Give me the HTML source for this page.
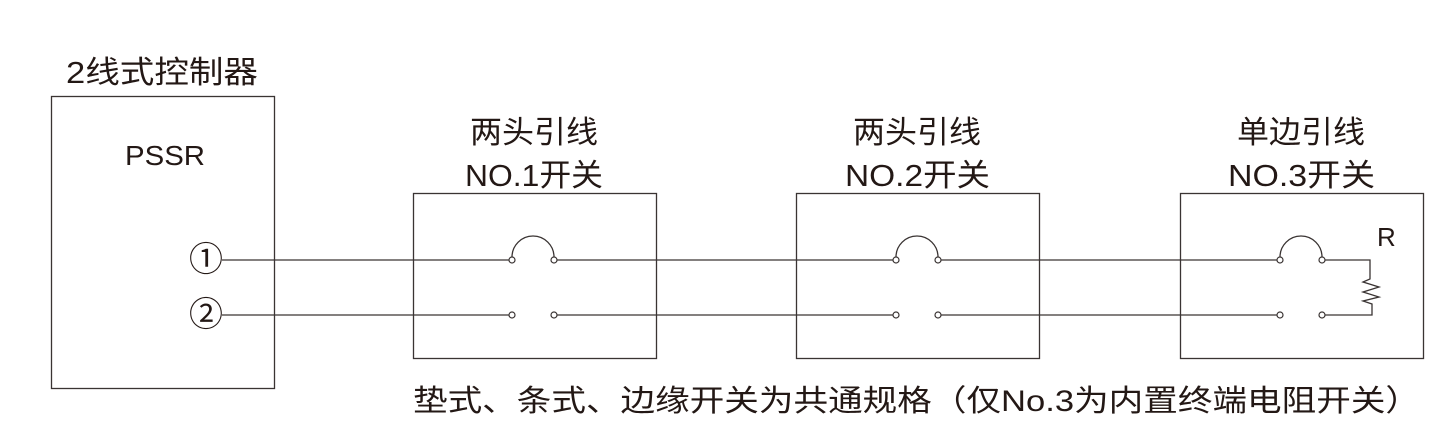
<!DOCTYPE html>
<html><head><meta charset="utf-8"><style>
html,body{margin:0;padding:0;background:#fff;}
svg{display:block;}
text{font-family:"Liberation Sans","Noto Sans CJK SC",sans-serif;fill:#231815;}
</style></head><body>
<svg width="1453" height="437" viewBox="0 0 1453 437" xmlns="http://www.w3.org/2000/svg">
<g fill="none" stroke="#3a3433" stroke-width="1.3">
<rect x="51.5" y="96.5" width="223" height="292"/>
<rect x="413.5" y="193.5" width="243" height="165"/>
<rect x="796.5" y="193.5" width="243" height="165"/>
<rect x="1180.5" y="193.5" width="243" height="165"/>
<line x1="222" y1="260" x2="509" y2="260"/>
<line x1="222" y1="315" x2="509" y2="315"/>
<line x1="557" y1="260" x2="893" y2="260"/>
<line x1="557" y1="315" x2="893" y2="315"/>
<line x1="941" y1="260" x2="1277" y2="260"/>
<line x1="941" y1="315" x2="1277" y2="315"/>
<polyline points="1325,260 1370,260 1370,279 1363,282 1379,287 1363,292 1379,297 1363,301 1372,304 1372,315 1325,315"/>
<path d="M512,257 A21,21 0 0 1 554,257"/>
<path d="M896,257 A21,21 0 0 1 938,257"/>
<path d="M1280,257 A21,21 0 0 1 1322,257"/>
</g>
<g fill="#fff" stroke="#3a3433" stroke-width="1.2">
<circle cx="512" cy="260" r="3"/><circle cx="554" cy="260" r="3"/>
<circle cx="512" cy="315" r="3"/><circle cx="554" cy="315" r="3"/>
<circle cx="896" cy="260" r="3"/><circle cx="938" cy="260" r="3"/>
<circle cx="896" cy="315" r="3"/><circle cx="938" cy="315" r="3"/>
<circle cx="1280" cy="260" r="3"/><circle cx="1322" cy="260" r="3"/>
<circle cx="1280" cy="315" r="3"/><circle cx="1322" cy="315" r="3"/>
</g>
<text x="66" y="83" font-size="31" textLength="192" lengthAdjust="spacingAndGlyphs">2线式控制器</text>
<text x="125" y="165" font-size="28" textLength="80" lengthAdjust="spacingAndGlyphs">PSSR</text>
<text x="206" y="271" font-size="34" text-anchor="middle">①</text>
<text x="206" y="326" font-size="34" text-anchor="middle">②</text>
<text x="470" y="143" font-size="31" textLength="128" lengthAdjust="spacingAndGlyphs">两头引线</text>
<text x="465" y="186" font-size="31" textLength="138" lengthAdjust="spacingAndGlyphs">NO.1开关</text>
<text x="853" y="143" font-size="31" textLength="128" lengthAdjust="spacingAndGlyphs">两头引线</text>
<text x="845" y="186" font-size="31" textLength="145" lengthAdjust="spacingAndGlyphs">NO.2开关</text>
<text x="1237" y="143" font-size="31" textLength="128" lengthAdjust="spacingAndGlyphs">单边引线</text>
<text x="1228" y="186" font-size="31" textLength="147" lengthAdjust="spacingAndGlyphs">NO.3开关</text>
<text x="1377" y="246" font-size="26">R</text>
<text x="413" y="411" font-size="30" textLength="1007" lengthAdjust="spacingAndGlyphs">垫式、条式、边缘开关为共通规格（仅No.3为内置终端电阻开关）</text>
</svg>
</body></html>
